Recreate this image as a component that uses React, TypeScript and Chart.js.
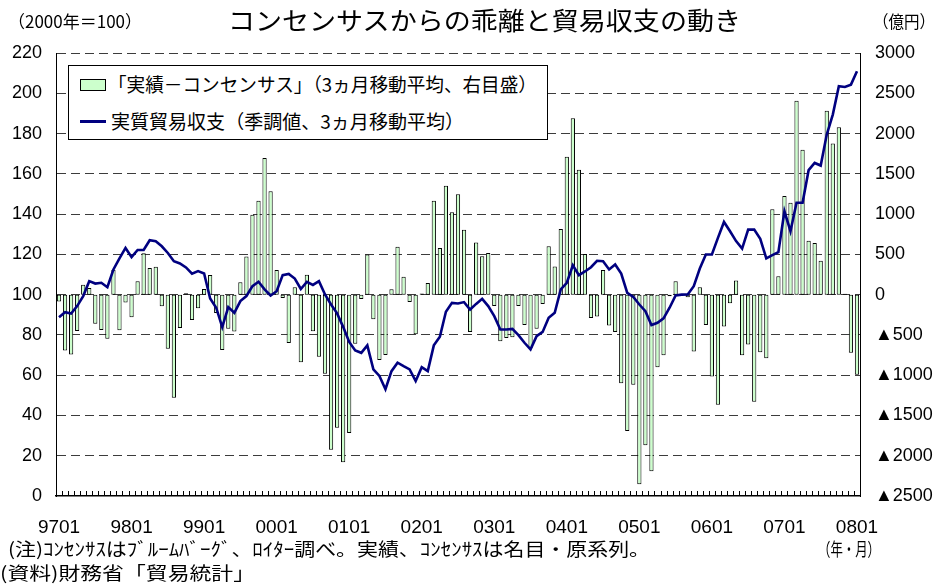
import React, { useEffect, useLayoutEffect, useRef } from 'react';
import { Chart, registerables } from 'chart.js';

Chart.register(...registerables);

// ---- data ----
const years = ['97', '98', '99', '00', '01', '02', '03', '04', '05', '06', '07'];
const months = ['01', '02', '03', '04', '05', '06', '07', '08', '09', '10', '11', '12'];
const categories: string[] = [...years.flatMap((y) => months.map((m) => y + m)), '0801'];
const tickLabels = ['9701', '9801', '9901', '0001', '0101', '0201', '0301', '0401', '0501', '0601', '0701', '0801'];

// 実質貿易収支（季調値、3ヵ月移動平均） 2000年=100, left axis
const tradeBalance = [
  88.8, 91.3, 90.6, 94.3, 99.3, 106.7, 105.5, 105.9, 103.7, 112.5, 118, 123.2,
  118.6, 122.2, 122.2, 127, 126.5, 124, 120.7, 116.6, 115.5, 113.5, 110.4, 111.7,
  110.5, 98.1, 93.5, 83.9, 93.8, 91, 96.8, 99.3, 104.2, 106.4, 102.6, 99.6,
  101.7, 109.7, 110.3, 108, 102.8, 106.3, 104.8, 106.7, 100.1, 95.1, 90.7, 84,
  76.5, 72.3, 71.1, 74.8, 62.9, 59.6, 53, 62, 66.2, 64.5, 62.9, 57.1,
  64, 62, 74.8, 79.1, 91.5, 95.9, 95.6, 96.3, 92.6, 95.4, 97.9, 94.3,
  89.3, 82.7, 82.7, 83, 79.9, 76.1, 72.8, 79.4, 81.5, 88.5, 91, 102.6,
  105.9, 114.6, 109.7, 111.5, 113.6, 116.8, 116.6, 112.5, 115, 110.5, 100.9, 98.8,
  95.1, 91.8, 84.9, 86, 88.2, 93.5, 99.6, 100, 100.1, 104.2, 113, 119.9,
  119.9, 128.2, 136.1, 131.5, 126.6, 122.9, 132.3, 132.3, 127.7, 118, 119.6, 121.1,
  141.4, 131.5, 145.6, 145.6, 161.8, 165.4, 164.1, 179.5, 189.4, 203.5, 203.1, 204.3,
  210.9,
];

// 「実績－コンセンサス」（3ヵ月移動平均） 億円, right axis
const surprise = [
  -85, -694, -744, -450, 124, 83, -363, -438, -549, 310, -442, -99,
  -281, 165, 513, 330, 345, -145, -673, -1280, -413, 17, -314, -169,
  70, 244, -227, -686, -425, -458, 153, 472, 993, 1167, 1697, 1283,
  306, -41, -599, 91, -839, 248, -454, -772, -983, -1925, -1652, -2082,
  -1718, -611, -54, 497, -306, -810, -748, 66, 596, 223, -91, -492,
  15, 145, 1167, 580, 1353, 1022, 1245, 807, -463, 646, 476, 517,
  -140, -579, -537, -529, -140, -376, -661, -425, -116, 600, 348, 815,
  1713, 2189, 1552, 505, -289, -272, 306, -384, -463, -1099, -1694, -1120,
  -2355, -1871, -2194, -900, -752, -20, 165, 0, -33, -706, 91, -376,
  -1016, -1367, -397, -107, 174, -752, -620, -1330, -715, -789, 1059, 227,
  1225, 1142, 2408, 1800, 670, 641, 422, 2284, 1875, 2077, 10, -723,
  -996,
];

const JP = "'Noto Sans CJK JP', 'Noto Sans', sans-serif";
const NUM = "'Liberation Sans', Arial, sans-serif";
const NARROW = "'Liberation Sans Narrow', 'Liberation Sans', sans-serif";

function FitText(props: { text: string; left: number; width: number; cy: number; size: number; family?: string }) {
  const ref = useRef<HTMLDivElement>(null);
  const fit = () => {
    const el = ref.current;
    if (!el) return;
    el.style.transform = 'none';
    const w = el.getBoundingClientRect().width;
    if (w > 0) el.style.transform = `scaleX(${props.width / w})`;
  };
  useLayoutEffect(() => {
    fit();
    if ((document as any).fonts && (document as any).fonts.ready) {
      (document as any).fonts.ready.then(fit);
    }
  });
  return (
    <div
      ref={ref}
      style={{
        position: 'absolute',
        left: props.left,
        top: props.cy - props.size * 0.56,
        fontSize: props.size,
        lineHeight: `${props.size}px`,
        fontFamily: props.family || JP,
        whiteSpace: 'nowrap',
        transformOrigin: '0 50%',
        color: '#000',
      }}
    >
      {props.text}
    </div>
  );
}

const bottomTicks = {
  id: 'bottomTicks',
  afterDatasetsDraw(chart: any) {
    const xs = chart.scales.x;
    const ctx = chart.ctx;
    const step = xs.getPixelForValue(1) - xs.getPixelForValue(0);
    const x0 = xs.getPixelForValue(0) - step / 2;
    const yb = chart.chartArea.bottom;
    ctx.save();
    ctx.strokeStyle = '#000';
    ctx.lineWidth = 1;
    ctx.beginPath();
    for (let k = 0; k <= categories.length; k++) {
      const x = Math.round(x0 + k * step) + 0.5;
      ctx.moveTo(x, yb - 5);
      ctx.lineTo(x, yb);
    }
    ctx.stroke();
    ctx.restore();
  },
};

export default function App() {
  const canvasRef = useRef<HTMLCanvasElement>(null);

  useEffect(() => {
    const canvas = canvasRef.current;
    if (!canvas) return;
    const chart = new Chart(canvas, {
      type: 'bar',
      data: {
        labels: categories,
        datasets: [
          {
            type: 'line',
            label: '実質貿易収支（季調値、3ヵ月移動平均）',
            data: tradeBalance,
            yAxisID: 'y',
            borderColor: '#000080',
            borderWidth: 2.6,
            pointRadius: 0,
            tension: 0,
            order: 0,
          } as any,
          {
            type: 'bar',
            label: '「実績－コンセンサス」（3ヵ月移動平均、右目盛）',
            data: surprise,
            yAxisID: 'y1',
            backgroundColor: '#ccffcc',
            borderColor: '#000',
            borderWidth: 1,
            borderSkipped: false,
            barPercentage: 0.7,
            categoryPercentage: 1,
            order: 1,
          } as any,
        ],
      },
      options: {
        responsive: false,
        animation: false,
        devicePixelRatio: 1,
        layout: { padding: { top: 53, left: 0, right: 0, bottom: 0 } },
        plugins: { legend: { display: false }, title: { display: false }, tooltip: { enabled: false } },
        scales: {
          x: {
            offset: true,
            grid: { display: false },
            border: { display: true, color: '#000', width: 1.5 },
            ticks: {
              autoSkip: false,
              maxRotation: 0,
              minRotation: 0,
              padding: 12,
              color: '#000',
              font: { family: NARROW, size: 19 },
              callback: (_v: any, i: number) => (tickLabels.includes(categories[i]) ? categories[i] : ''),
            },
            afterFit: (s: any) => {
              s.height = 88;
            },
          },
          y: {
            position: 'left',
            min: 0,
            max: 220,
            ticks: { stepSize: 20, padding: 14, color: '#000', font: { family: NUM, size: 18 } },
            grid: {
              drawTicks: false,
              lineWidth: 1,
              color: (c: any) => (c.tick && c.tick.value === 0 ? 'rgba(0,0,0,0)' : '#3c3c3c'),
            },
            border: { display: true, color: '#000', width: 1, dash: [9, 5] },
            afterFit: (s: any) => {
              s.width = 56;
            },
          },
          y1: {
            position: 'right',
            min: -2500,
            max: 3000,
            ticks: {
              stepSize: 500,
              padding: 15,
              color: '#000',
              font: { family: NUM, size: 18 },
              callback: (v: any) => (Number(v) < 0 ? '▲' + String(-Number(v)) : String(v)),
            },
            grid: { display: false, drawTicks: false },
            border: { display: true, color: '#000', width: 1 },
            afterFit: (s: any) => {
              s.width = 79;
            },
          },
        },
      } as any,
      plugins: [bottomTicks],
    });
    return () => chart.destroy();
  }, []);

  return (
    <div style={{ position: 'fixed', left: 0, top: 0, width: 939, height: 584, background: '#fff', overflow: 'hidden' }}>
      <canvas ref={canvasRef} width={939} height={584} style={{ position: 'absolute', left: 0, top: 0, width: 939, height: 584 }} />
      <FitText text="コンセンサスからの乖離と貿易収支の動き" left={228} width={513} cy={21} size={25} />
      <FitText text="（2000年＝100）" left={8} width={134} cy={22} size={17} />
      <FitText text="（億円）" left={873} width={62} cy={22} size={17} />
      <div
        style={{
          position: 'absolute',
          left: 68,
          top: 65,
          width: 480,
          height: 75,
          boxSizing: 'border-box',
          border: '1px solid #000',
          background: '#fff',
        }}
      />
      <div
        style={{
          position: 'absolute',
          left: 80,
          top: 79,
          width: 26,
          height: 12,
          boxSizing: 'border-box',
          border: '1px solid #000',
          background: '#ccffcc',
        }}
      />
      <div style={{ position: 'absolute', left: 80, top: 120, width: 26, height: 3, background: '#000080' }} />
      <FitText text="「実績－コンセンサス」（3ヵ月移動平均、右目盛）" left={108} width={429} cy={85} size={19} />
      <FitText text="実質貿易収支（季調値、3ヵ月移動平均）" left={111} width={353} cy={121.5} size={19} />
      <FitText text="(注)ｺﾝｾﾝｻｽはﾌﾞﾙｰﾑﾊﾞｰｸﾞ、ﾛｲﾀｰ調べ。実績、ｺﾝｾﾝｻｽは名目・原系列。" left={8} width={642} cy={549} size={18} />
      <FitText text="（年・月）" left={818} width={62} cy={549} size={18} />
      <FitText text="(資料)財務省「貿易統計」" left={0} width={255} cy={573} size={18} />
    </div>
  );
}
